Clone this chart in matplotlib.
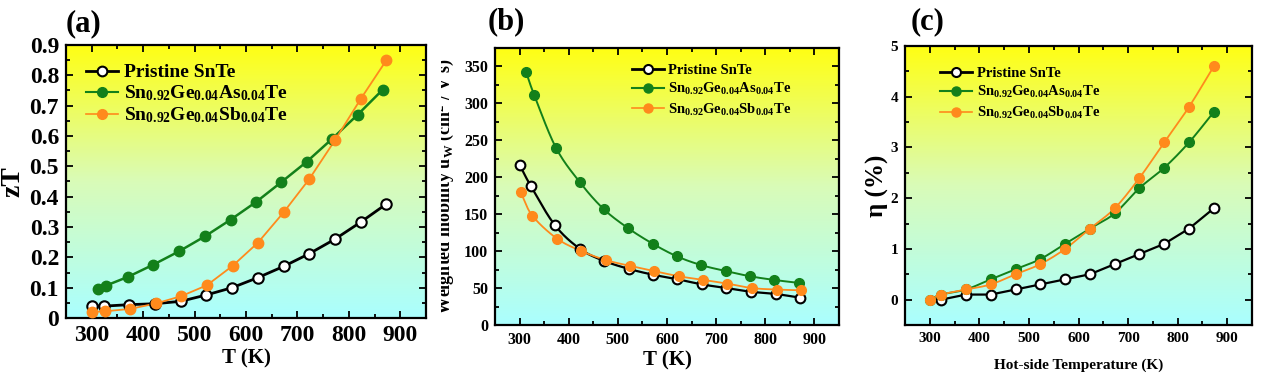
import numpy as np
import matplotlib
matplotlib.use('Agg')
import matplotlib.pyplot as plt
from matplotlib.colors import LinearSegmentedColormap
from matplotlib.ticker import MultipleLocator, FuncFormatter
from matplotlib.transforms import Bbox
from matplotlib.lines import Line2D

plt.rcParams['font.family'] = ['Liberation Serif', 'DejaVu Serif']
plt.rcParams['font.weight'] = 'bold'
plt.rcParams['mathtext.fontset'] = 'custom'
plt.rcParams['mathtext.rm'] = 'Liberation Serif:bold'
plt.rcParams['mathtext.bf'] = 'Liberation Serif:bold'
plt.rcParams['mathtext.it'] = 'Liberation Serif:bold'
plt.rcParams['mathtext.default'] = 'bf'

# ---- данные ----
# (a) zT
T_pr_a = [300, 323, 373, 423, 473, 523, 573, 623, 673, 723, 773, 823, 873]
zT_pr = [0.041, 0.039, 0.044, 0.047, 0.055, 0.076, 0.100, 0.133, 0.170, 0.212, 0.260, 0.316, 0.376]
T_as_a = [313, 328, 371, 420, 470, 520, 570, 620, 668, 718, 767, 817, 866]
zT_as = [0.096, 0.107, 0.136, 0.176, 0.220, 0.269, 0.324, 0.383, 0.447, 0.515, 0.590, 0.670, 0.753]
T_sb_a = [300, 325, 375, 425, 474, 524, 574, 623, 673, 723, 773, 823, 873]
zT_sb = [0.020, 0.022, 0.030, 0.048, 0.072, 0.108, 0.172, 0.248, 0.348, 0.458, 0.586, 0.722, 0.850]

# (b) weighted mobility
T_pr_b = [300, 323, 372, 423, 471, 522, 572, 621, 671, 721, 771, 821, 871]
mu_pr = [217, 188, 135, 103, 87, 76, 68, 62, 55, 50, 45, 42, 37]
T_as_b = [313, 330, 374, 423, 471, 521, 571, 620, 670, 720, 769, 818, 868]
mu_as = [343, 311, 240, 193, 157, 131, 110, 93, 81, 73, 66, 61, 57]
T_sb_b = [302, 326, 376, 426, 475, 525, 574, 624, 674, 723, 773, 823, 873]
mu_sb = [180, 148, 117, 100, 88, 80, 73, 66, 61, 56, 50, 48, 47]

# (c) efficiency
T_pr_c = [323, 373, 423, 473, 523, 573, 623, 673, 723, 773, 823, 873]
eta_pr = [0.0, 0.1, 0.1, 0.2, 0.3, 0.4, 0.5, 0.7, 0.9, 1.1, 1.4, 1.8]
T_c = [300, 323, 373, 423, 473, 523, 573, 623, 673, 723, 773, 823, 873]
eta_as = [0.0, 0.1, 0.2, 0.4, 0.6, 0.8, 1.1, 1.4, 1.7, 2.2, 2.6, 3.1, 3.7]
eta_sb = [0.0, 0.1, 0.2, 0.3, 0.5, 0.7, 1.0, 1.4, 1.8, 2.4, 3.1, 3.8, 4.6]

labels = ['Pristine SnTe',
          r'Sn$_{0.92}$Ge$_{0.04}$As$_{0.04}$Te',
          r'Sn$_{0.92}$Ge$_{0.04}$Sb$_{0.04}$Te']

GREEN = '#13801a'
ORANGE = '#ff8a1c'
bg_cmap = LinearSegmentedColormap.from_list('bg', ['#aaffff', '#d9fbb8', '#ffff14'])


# сглаживание Catmull-Rom для линий
def smooth(x, y, n=20):
    x = np.asarray(x, float)
    y = np.asarray(y, float)
    P = np.column_stack([x, y])
    P = np.vstack([2 * P[0] - P[1], P, 2 * P[-1] - P[-2]])
    out = []
    t = np.linspace(0, 1, n, endpoint=False)[:, None]
    for i in range(1, len(P) - 2):
        p0, p1, p2, p3 = P[i - 1], P[i], P[i + 1], P[i + 2]
        seg = 0.5 * ((2 * p1) + (-p0 + p2) * t + (2 * p0 - 5 * p1 + 4 * p2 - p3) * t ** 2
                     + (-p0 + 3 * p1 - 3 * p2 + p3) * t ** 3)
        out.append(seg)
    out.append(P[-2][None, :])
    out = np.vstack(out)
    return out[:, 0], out[:, 1]


def style_axes(ax, fs, xmin_step, ymaj, ymin):
    img = np.linspace(0, 1, 256)[:, None]
    ax.imshow(img, extent=[0, 1, 0, 1], transform=ax.transAxes, cmap=bg_cmap,
              origin='lower', aspect='auto', zorder=0)
    ax.xaxis.set_major_locator(MultipleLocator(100))
    ax.xaxis.set_minor_locator(MultipleLocator(xmin_step))
    ax.yaxis.set_major_locator(MultipleLocator(ymaj))
    ax.yaxis.set_minor_locator(MultipleLocator(ymin))
    ax.tick_params(which='both', direction='in', top=True, right=True, width=1.3)
    ax.tick_params(which='major', length=5, labelsize=fs, pad=5)
    ax.tick_params(which='minor', length=3)
    for s in ax.spines.values():
        s.set_linewidth(1.6)
    for lab in ax.get_xticklabels() + ax.get_yticklabels():
        lab.set_fontweight('bold')


def draw(ax, x, y, color, open_marker, ms, lw, smooth_line):
    if smooth_line:
        xs, ys = smooth(x, y)
    else:
        xs, ys = x, y
    ax.plot(xs, ys, '-', color=color, lw=lw, zorder=2)
    fc = 'white' if open_marker else color
    ax.plot(x, y, 'o', ms=ms, mfc=fc, mec=color, mew=1.5 if open_marker else 1, zorder=3)


def legend(ax, fs, ms, anchor, spacing, hl=2.2):
    h = [Line2D([], [], color='black', lw=2, marker='o', ms=ms, mfc='white', mec='black', mew=1.5),
         Line2D([], [], color=GREEN, lw=1.5, marker='o', ms=ms, mfc=GREEN, mec=GREEN),
         Line2D([], [], color=ORANGE, lw=1.2, marker='o', ms=ms, mfc=ORANGE, mec=ORANGE)]
    ax.legend(h, labels, loc='upper left', bbox_to_anchor=anchor, frameon=False,
              prop={'size': fs, 'weight': 'bold'}, handlelength=hl, handletextpad=0.3,
              labelspacing=spacing, borderaxespad=0)


fig = plt.figure(figsize=(12.69, 3.77), dpi=100)
W, H = 1269, 377

axa = fig.add_axes([66 / W, (H - 318) / H, 360 / W, 273 / H])
axb = fig.add_axes([495 / W, (H - 325) / H, 344 / W, 277 / H])
axc = fig.add_axes([905 / W, (H - 325) / H, 347 / W, 279 / H])

# (a)
style_axes(axa, 17, 50, 0.1, 0.05)
axa.set_xlim(250, 950)
axa.set_ylim(0, 0.9)
axa.yaxis.set_major_formatter(FuncFormatter(lambda v, p: '0' if abs(v) < 1e-9 else f'{v:.1f}'))
draw(axa, T_pr_a, zT_pr, 'black', True, 7.5, 2.0, False)
draw(axa, T_as_a, zT_as, GREEN, False, 7.5, 1.8, False)
draw(axa, T_sb_a, zT_sb, ORANGE, False, 7.5, 1.3, False)
axa.set_xlabel('T (K)', fontsize=15, fontweight='bold', labelpad=2)
axa.set_ylabel('zT', fontsize=20, fontweight='bold', labelpad=3)
legend(axa, 14, 7, (0.035, 0.96), 0.12, hl=1.65)

# (b)
style_axes(axb, 11.5, 50, 50, 25)
axb.set_xlim(250, 950)
axb.set_ylim(0, 375)
draw(axb, T_pr_b, mu_pr, 'black', True, 7, 1.6, True)
draw(axb, T_as_b, mu_as, GREEN, False, 7, 1.4, True)
draw(axb, T_sb_b, mu_sb, ORANGE, False, 7, 1.3, True)
axb.set_xlabel('T (K)', fontsize=15, fontweight='bold', labelpad=2)
legend(axb, 10.5, 6.5, (0.381, 0.965), 0.3)
# подпись оси y частично обрезана слева, как в оригинале
yl = fig.text(445 / W, 0.5 * ((H - 325) / H + (H - 48) / H),
              r'Weighted mobility u$_W$ (cm$^2$ / V s)', rotation=90,
              ha='center', va='center', fontsize=13, fontweight='bold')
yl.set_clip_box(Bbox.from_extents(441, 0, 700, 377))
yl.set_clip_on(True)

# (c)
style_axes(axc, 11, 50, 1, 0.5)
axc.set_xlim(250, 950)
axc.set_ylim(-0.5, 5)
draw(axc, T_pr_c, eta_pr, 'black', True, 7, 1.6, False)
draw(axc, T_c, eta_as, GREEN, False, 7, 1.4, True)
draw(axc, T_c, eta_sb, ORANGE, False, 7, 1.3, True)
axc.set_xlabel('Hot-side Temperature (K)', fontsize=11, fontweight='bold', labelpad=10)
axc.set_ylabel('η (%)', fontsize=18, fontweight='bold', labelpad=1)
legend(axc, 10.5, 6.5, (0.085, 0.947), 0.3)

fig.text(66 / W, 1 - 24 / H, '(a)', fontsize=22, fontweight='bold', va='center')
fig.text(488 / W, 1 - 22 / H, '(b)', fontsize=22, fontweight='bold', va='center')
fig.text(911 / W, 1 - 22 / H, '(c)', fontsize=22, fontweight='bold', va='center')

fig.savefig('out.png', dpi=100)
